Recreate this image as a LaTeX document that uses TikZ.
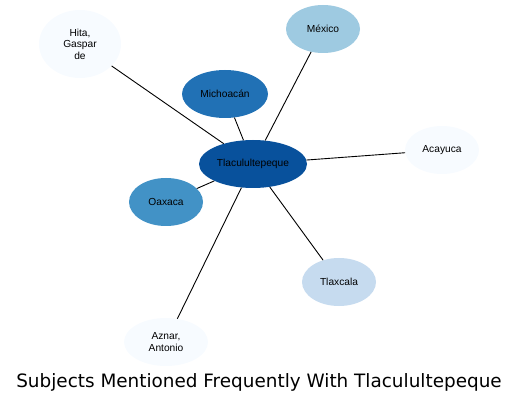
\documentclass[tikz,border=0pt]{standalone}
\usepackage{fontspec}
\usepackage{tikz}
\usetikzlibrary{shapes.geometric}
\newfontfamily\labelfont{Liberation Sans}
\newfontfamily\titlefont{DejaVu Sans}
\definecolor{blue0}{HTML}{F7FBFF}
\definecolor{blue1}{HTML}{C6DBEF}
\definecolor{blue2}{HTML}{9ECAE1}
\definecolor{blue3}{HTML}{4292C6}
\definecolor{blue4}{HTML}{2171B5}
\definecolor{blue5}{HTML}{08519C}
\tikzstyle{subject} = [ellipse, minimum width=74pt, minimum height=48pt, inner sep=0pt, align=center, font={\labelfont\fontsize{10.2pt}{11.5pt}\selectfont}]
\tikzstyle{link} = [line width=0.9pt, black]

\begin{document}
\begin{tikzpicture}[x=1pt, y=-1pt]
    \useasboundingbox (0,0) rectangle (519,403);
    \node (center) [subject, fill=blue5, minimum width=108pt] at (253,164) {Tlaculultepeque};
    \node (hita) [subject, fill=blue0, minimum width=82pt, minimum height=68pt] at (80,44) {Hita,\\Gaspar\\de};
    \node (michoacan) [subject, fill=blue4, minimum width=86pt] at (225,94) {Michoacán};
    \node (mexico) [subject, fill=blue2] at (323,29) {México};
    \node (acayuca) [subject, fill=blue0] at (442,150) {Acayuca};
    \node (oaxaca) [subject, fill=blue3] at (166,202) {Oaxaca};
    \node (tlaxcala) [subject, fill=blue1] at (339,282) {Tlaxcala};
    \node (aznar) [subject, fill=blue0, minimum width=84pt] at (166,342) {Aznar,\\Antonio};

    \draw [link] (center) -- (hita);
    \draw [link] (center) -- (michoacan);
    \draw [link] (center) -- (mexico);
    \draw [link] (center) -- (acayuca);
    \draw [link] (center) -- (oaxaca);
    \draw [link] (center) -- (tlaxcala);
    \draw [link] (center) -- (aznar);

    \node (title) at (259,382) {\titlefont\fontsize{18.4pt}{20pt}\selectfont Subjects Mentioned Frequently With Tlaculultepeque};
\end{tikzpicture}
\end{document}
